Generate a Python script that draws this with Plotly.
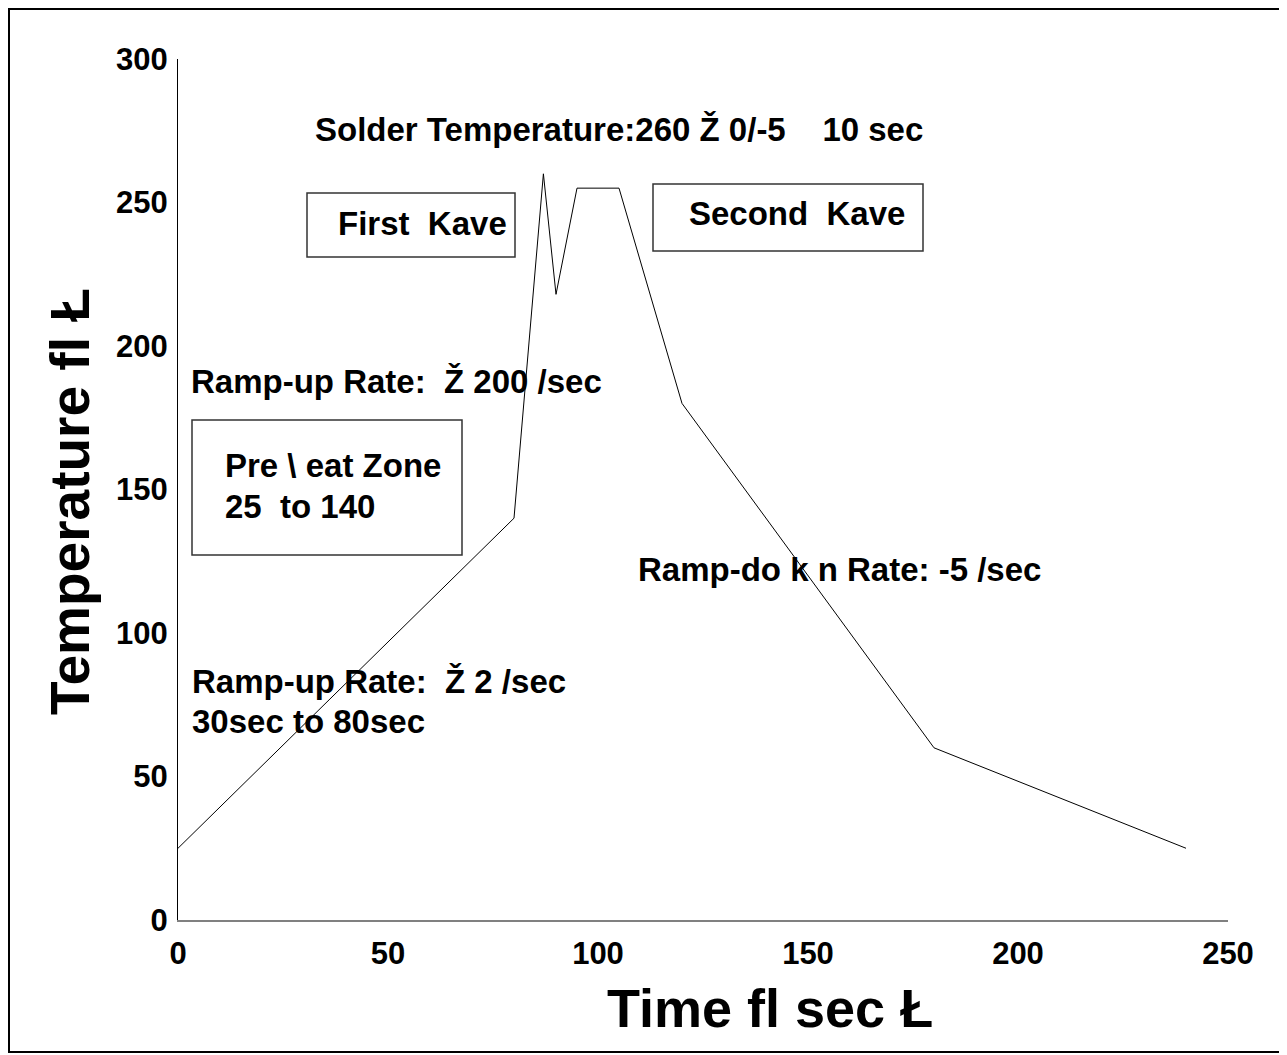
import plotly.graph_objects as go

# data
time_s = [0, 80, 87, 90, 95, 105, 120, 180, 240]
temp_c = [25, 140, 260, 218, 255, 255, 180, 60, 25]
x_ticks = [0, 50, 100, 150, 200, 250]
y_ticks = [0, 50, 100, 150, 200, 250, 300]

# page offset (default body margin) so screen coordinates line up
OFF = 8
W, H = 1287 - OFF, 1055 - OFF
PL, PR, PT, PB = 178, 1228, 59, 920   # plot area in screen pixels
PW, PH = PR - PL, PB - PT
L, T = PL - OFF, PT - OFF
R, B = W - L - PW, H - T - PH

def px(x):
    return (x - PL) / PW

def py(y):
    return (PB - y) / PH

NB = "\u00a0"
FONT = "Liberation Sans, Arial, sans-serif"

fig = go.Figure()
fig.add_trace(go.Scatter(x=time_s, y=temp_c, mode="lines",
                         line=dict(color="black", width=1), showlegend=False,
                         hoverinfo="skip"))

shapes = [
    # outer border
    dict(type="rect", xref="paper", yref="paper", x0=px(9), x1=px(1283), y0=py(1052), y1=py(9),
         line=dict(color="black", width=2)),
    # boxes
    dict(type="rect", xref="paper", yref="paper", x0=px(307), x1=px(515), y0=py(257), y1=py(193),
         line=dict(color="#333333", width=1.5)),
    dict(type="rect", xref="paper", yref="paper", x0=px(653), x1=px(923), y0=py(251), y1=py(184),
         line=dict(color="#333333", width=1.5)),
    dict(type="rect", xref="paper", yref="paper", x0=px(192), x1=px(462), y0=py(555), y1=py(420),
         line=dict(color="#333333", width=1.5)),
]

def txt(s, x, y, size=33, anchor="left"):
    return dict(text="<b>" + s + "</b>", xref="paper", yref="paper",
                x=px(x), y=py(y), xanchor=anchor, yanchor="middle", showarrow=False,
                font=dict(family=FONT, size=size, color="black"))

annotations = [
    txt("Solder Temperature:260 Ž 0/-5" + NB * 4 + "10 sec", 313, 129),
    txt("First" + NB * 2 + "Kave", 336, 224),
    txt("Second" + NB * 2 + "Kave", 687, 214),
    txt("Ramp-up Rate:" + NB * 2 + "Ž 200 /sec", 189, 381),
    txt("Pre \\ eat Zone", 223, 465),
    txt("25" + NB * 2 + "to 140", 223, 507),
    txt("Ramp-do k n Rate: -5 /sec", 636, 569),
    txt("Ramp-up Rate:" + NB * 2 + "Ž 2 /sec", 190, 681),
    txt("30sec to 80sec", 190, 721),
    txt("Time fl sec Ł", 770, 1008, size=54, anchor="center"),
    dict(text="<b>Temperature fl Ł</b>", xref="paper", yref="paper", x=px(70), y=py(502),
         xanchor="center", yanchor="middle", textangle=-90, showarrow=False,
         font=dict(family=FONT, size=55, color="black")),
]

fig.update_layout(
    width=W, height=H,
    margin=dict(l=L, r=R, t=T, b=B),
    paper_bgcolor="white", plot_bgcolor="white",
    shapes=shapes, annotations=annotations,
    font=dict(family=FONT),
)
fig.update_xaxes(range=[0, 250], tickvals=x_ticks, ticktext=[str(v) for v in x_ticks],
                 showgrid=False, zeroline=False, showline=True, linecolor="#808080", linewidth=2,
                 ticks="", ticklabelstandoff=5,
                 tickfont=dict(family=FONT, size=31, color="black", weight="bold"))
fig.update_yaxes(range=[0, 300], tickvals=y_ticks, ticktext=[str(v) for v in y_ticks],
                 showgrid=False, zeroline=False, showline=True, linecolor="black", linewidth=1,
                 ticks="", ticklabelstandoff=3,
                 tickfont=dict(family=FONT, size=31, color="black", weight="bold"))

fig.write_html("out.html")
